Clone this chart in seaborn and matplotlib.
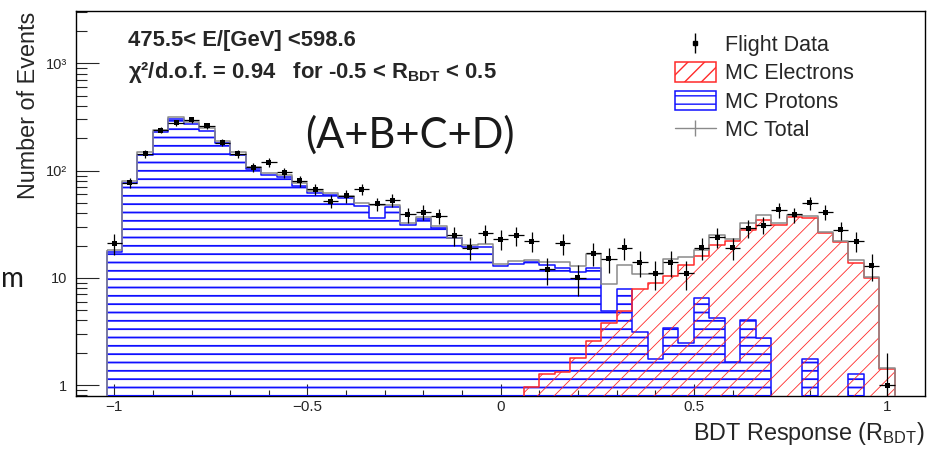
import numpy as np
import pandas as pd
import matplotlib
matplotlib.use("Agg")
import matplotlib.pyplot as plt
import seaborn as sns
from matplotlib.lines import Line2D
from matplotlib.patches import Patch
from matplotlib.ticker import (FixedLocator, FixedFormatter, MultipleLocator,
                               LogLocator, NullFormatter)

# ---------------------------------------------------------------------------
# Binning of the BDT response: 51 bins of width 0.04 centred on -1.00 ... 1.00
# ---------------------------------------------------------------------------
bdt_low, bdt_high, n_bins = -1.02, 1.02, 51

# Bin contents, one value per bin (left to right)
flight_data = [21, 77, 143, 239, 280, 297, 262, 182, 143, 107,
               120, 96, 80, 67, 52, 58, 67, 49, 53, 39,
               41, 38, 25, 19, 26, 23, 25, 22, 12, 21,
               10, 17, 15, 19, 14, 11, 14, 11, 19, 24,
               19, 29, 31, 43, 39, 50, 41, 28, 22, 13,
               1]

mc_total = [18.2, 80.5, 148, 239, 318, 286, 248, 190, 148, 109,
            95.6, 91, 76.2, 65, 62.2, 58.3, 49.5, 47.8, 47.8, 32.7,
            37.2, 30.4, 23.5, 20.2, 20.5, 13.4, 14.4, 14.7, 13.9, 14.1,
            12.9, 16.6, 8.75, 13.2, 10.8, 10.9, 15.0, 15.7, 18.2, 25.1,
            22.9, 32.7, 38.5, 32.7, 38.5, 37.7, 26.9, 22.0, 14.7, 10.2,
            1.43]

mc_protons = [17.3, 76.5, 141, 227, 302, 272, 236, 181, 141, 104,
              91, 86.5, 72.4, 61.8, 59.1, 55.4, 47, 35.9, 45.4, 31.1,
              35.3, 28.9, 23.5, 19.2, 19.5, 12.9, 13.5, 14.1, 13.1, 12.3,
              11.4, 12.3, 4.93, 7.81, 3.14, 1.74, 3.42, 2.45, 6.44, 4.19,
              1.65, 4.04, 2.73, 0, 0, 1.74, 0, 0, 1.27, 0,
              0]

mc_electrons = [0, 0, 0, 0, 0, 0, 0, 0, 0, 0,
                0, 0, 0, 0, 0, 0, 0, 0, 0, 0,
                0, 0, 0, 0, 0, 0, 0, 0.95, 1.26, 1.33,
                1.77, 2.59, 3.81, 4.93, 7.81, 9.0, 10.4, 13.2, 16.0, 20.2,
                22.2, 27.9, 34.6, 31.0, 36.7, 35.9, 26.4, 21.6, 13.8, 9.9,
                1.41]

x_ticks = [-1, -0.5, 0, 0.5, 1]
x_tick_labels = ["\u22121", "\u22120.5", "0", "0.5", "1"]
y_ticks = [1, 10, 100, 1000]
y_tick_labels = ["1", "10", "10\u00b2", "10\u00b3"]

legend_labels = ["Flight Data", "MC Electrons", "MC Protons", "MC Total"]
energy_text = "475.5< E/[GeV] <598.6"
fit_text = r"χ²/d.o.f. = 0.94   for -0.5 < R$_{\mathbf{BDT}}$ < 0.5"
sample_text = "(A+B+C+D)"
x_title = r"BDT Response (R$_{\mathrm{BDT}}$)"
y_title = "Number of Events"

# ---------------------------------------------------------------------------
sns.set_style("white")
plt.rcParams["font.family"] = ["Liberation Sans", "DejaVu Sans"]
plt.rcParams["mathtext.fontset"] = "custom"
plt.rcParams["mathtext.rm"] = "Liberation Sans"
plt.rcParams["mathtext.it"] = "Liberation Sans:italic"
plt.rcParams["mathtext.bf"] = "Liberation Sans:bold"

edges = np.linspace(bdt_low, bdt_high, n_bins + 1)
centers = 0.5 * (edges[:-1] + edges[1:])
half_width = 0.5 * (edges[1] - edges[0])

df = pd.DataFrame({
    "bdt": centers,
    "data": flight_data,
    "total": mc_total,
    "protons": mc_protons,
    "electrons": mc_electrons,
})

RED = "#ff2a2a"
BLUE = "#1010ff"
GREY = "#8a8a8a"
RED_HATCH_LW = 0.6
BLUE_HATCH_LW = 1.3

W, H = 934, 449
fig = plt.figure(figsize=(W / 100, H / 100), dpi=100)
ax = fig.add_axes([76 / W, 1 - 396 / H, (925 - 76) / W, (396 - 11) / H])
ax.set_yscale("log")

hist_kws = dict(x="bdt", bins=n_bins, binrange=(bdt_low, bdt_high),
                element="step", fill=True, facecolor="none", linewidth=1.1,
                ax=ax)


def set_hatch_width(artist, lw):
    if hasattr(artist, "set_hatch_linewidth"):
        artist.set_hatch_linewidth(lw)


# MC protons: blue horizontal hatching
with plt.rc_context({"hatch.linewidth": BLUE_HATCH_LW}):
    sns.histplot(data=df, weights="protons", color=BLUE, edgecolor=BLUE,
                 hatch="--", zorder=3, **hist_kws)
    set_hatch_width(ax.collections[-1], BLUE_HATCH_LW)

# MC electrons: red diagonal hatching
with plt.rc_context({"hatch.linewidth": RED_HATCH_LW}):
    sns.histplot(data=df, weights="electrons", color=RED, edgecolor=RED,
                 hatch="//", zorder=4, **hist_kws)
    set_hatch_width(ax.collections[-1], RED_HATCH_LW)

# MC total: grey outline on top of the components
sns.histplot(data=df, weights="total", color=GREY, edgecolor=GREY,
             zorder=4.5, **hist_kws)

# Flight data with Poisson errors
data_arr = np.asarray(flight_data, dtype=float)
ax.errorbar(df["bdt"], data_arr, yerr=np.sqrt(data_arr), xerr=half_width,
            fmt="none", ecolor="black", elinewidth=0.9, capsize=0, zorder=5)
sns.scatterplot(data=df, x="bdt", y="data", marker="s", s=13, color="black",
                edgecolor="none", linewidth=0, ax=ax, zorder=6, legend=False)

# Axes ranges and ticks
ax.set_xlim(-1.099, 1.098)
ax.set_ylim(0.79, 3080)
ax.set_xlabel("")
ax.set_ylabel("")
ax.xaxis.set_major_locator(FixedLocator(x_ticks))
ax.xaxis.set_major_formatter(FixedFormatter(x_tick_labels))
ax.xaxis.set_minor_locator(MultipleLocator(0.1))
ax.yaxis.set_major_locator(FixedLocator(y_ticks))
ax.yaxis.set_major_formatter(FixedFormatter(y_tick_labels))
ax.yaxis.set_minor_locator(LogLocator(base=10, subs=np.arange(2, 10)))
ax.yaxis.set_minor_formatter(NullFormatter())
ax.tick_params(axis="y", which="major", direction="in", length=16.5,
               width=0.8, labelsize=10.5, pad=6.5, left=True, right=False)
ax.tick_params(axis="y", which="minor", direction="in", length=8,
               width=0.8, left=True, right=False)
ax.tick_params(axis="x", which="major", direction="in", length=8.6,
               width=0.8, labelsize=11, pad=3, bottom=True, top=False)
ax.tick_params(axis="x", which="minor", direction="in", length=4.3,
               width=0.8, bottom=True, top=False)
for sp in ax.spines.values():
    sp.set_color("black")
    sp.set_linewidth(1.0)
    sp.set_visible(True)

# Legend
h_data = (Line2D([], [], color="black", marker="|", markersize=14,
                 markeredgewidth=1.0, linestyle="none"),
          Line2D([], [], color="black", marker="s", markersize=3.5,
                 linestyle="none"))
with plt.rc_context({"hatch.linewidth": RED_HATCH_LW}):
    h_ele = Patch(facecolor="none", edgecolor=RED, hatch="//", linewidth=1.1)
    set_hatch_width(h_ele, RED_HATCH_LW)
with plt.rc_context({"hatch.linewidth": BLUE_HATCH_LW}):
    h_pro = Patch(facecolor="none", edgecolor=BLUE, hatch="--", linewidth=1.1)
    set_hatch_width(h_pro, BLUE_HATCH_LW)
h_tot = Line2D([], [], color=GREY, marker="|", markersize=12,
               markeredgewidth=1.0, linewidth=1.0)
ax.legend([h_data, h_ele, h_pro, h_tot], legend_labels,
          loc="upper left", bbox_to_anchor=((675 - 76) / 849, (396 - 34) / 385),
          frameon=False, fontsize=15.5, handlelength=1.9, handleheight=1.0,
          handletextpad=0.4, labelspacing=0.3, borderpad=0, borderaxespad=0)

# Titles and annotations
fig.text(128 / W, 1 - 46 / H, energy_text, fontsize=15.8, fontweight="bold",
         ha="left", va="baseline")
fig.text(128 / W, 1 - 78 / H, fit_text, fontsize=15.8, fontweight="bold",
         ha="left", va="baseline")
fig.text(410 / W, 1 - 135 / H, sample_text, fontsize=30,
         family=["Lato", "DejaVu Sans"], ha="center", va="center",
         color="#1a1a1a")
fig.text(1 / W, 1 - 287 / H, "m", fontsize=20,
         family=["Lato", "DejaVu Sans"], ha="left", va="baseline",
         color="#1a1a1a")
fig.text(925 / W, 1 - 440 / H, x_title, fontsize=16.8, ha="right",
         va="baseline")
fig.text(29 / W, 1 - 12 / H, y_title, fontsize=16.8, rotation=90,
         ha="center", va="top")

fig.savefig("out.png", dpi=100, facecolor="white")
